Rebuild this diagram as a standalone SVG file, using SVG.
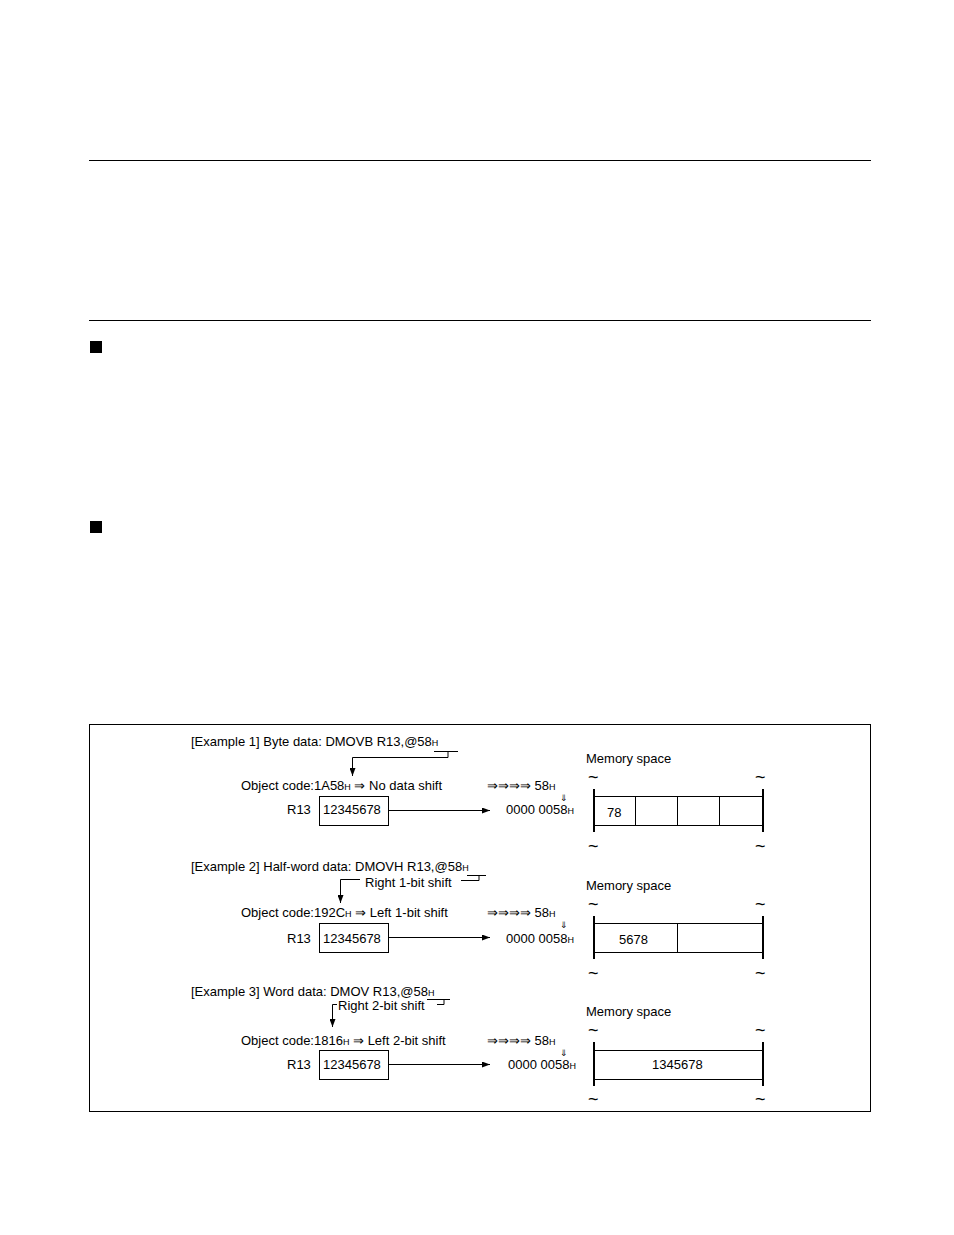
<svg xmlns="http://www.w3.org/2000/svg" width="954" height="1235" viewBox="0 0 954 1235">
<defs>
<style>
text{font-family:"Liberation Sans",Arial,sans-serif;font-size:13px;fill:#000}
.s{font-size:9px}
.t{font-size:9px}
.ln{stroke:#000;stroke-width:1;fill:none}
.mem{stroke:#000;stroke-width:2;fill:none}
.tl{font-size:18px}
</style>
<marker id="ah" markerWidth="8" markerHeight="6" refX="8" refY="3" orient="auto" markerUnits="userSpaceOnUse"><path d="M0,0 L8,3 L0,6 z" fill="#000"/></marker>
</defs>
<rect width="954" height="1235" fill="#fff"/>
<line x1="89" y1="160.5" x2="871" y2="160.5" class="ln"/>
<line x1="89" y1="320.5" x2="871" y2="320.5" class="ln"/>
<rect x="90" y="341" width="12" height="12" fill="#000"/>
<rect x="90" y="521" width="12" height="12" fill="#000"/>
<rect x="89.5" y="724.5" width="781" height="387" class="ln"/>

<g id="ex1">
<text x="191" y="746">[Example 1] Byte data: DMOVB R13,@58<tspan class="s">H</tspan></text>
<text x="241" y="790">Object code:1A58<tspan class="s">H</tspan>  ⇒  No data shift</text>
<text x="487" y="790">⇒⇒⇒⇒  58<tspan class="s">H</tspan></text>
<text x="560" y="801" class="t">⇓</text>
<text x="287" y="814">R13</text>
<rect x="319.5" y="796.5" width="69" height="29" class="ln"/>
<text x="323" y="814">12345678</text>
<text x="506" y="814">0000 0058<tspan class="s">H</tspan></text>
</g>
<g id="mem1">
<text x="586" y="763">Memory space</text>
<text x="588" y="783" class="tl">~</text><text x="755" y="783" class="tl">~</text>
<text x="588" y="852" class="tl">~</text><text x="755" y="852" class="tl">~</text>
<line x1="594" y1="789" x2="594" y2="832" class="mem"/>
<line x1="763" y1="789" x2="763" y2="832" class="mem"/>
<rect x="594.5" y="796.5" width="168" height="29" class="ln"/>
<line x1="635.5" y1="796" x2="635.5" y2="826" class="ln"/>
<line x1="677.5" y1="796" x2="677.5" y2="826" class="ln"/>
<line x1="719.5" y1="796" x2="719.5" y2="826" class="ln"/>
<text x="607" y="817">78</text>
</g>

<g id="ex2">
<text x="191" y="871">[Example 2] Half-word data: DMOVH R13,@58<tspan class="s">H</tspan></text>
<text x="365" y="887">Right 1-bit shift</text>
<text x="241" y="917">Object code:192C<tspan class="s">H</tspan>  ⇒  Left 1-bit shift</text>
<text x="487" y="917">⇒⇒⇒⇒  58<tspan class="s">H</tspan></text>
<text x="560" y="928" class="t">⇓</text>
<text x="287" y="943">R13</text>
<rect x="319.5" y="923.5" width="69" height="29" class="ln"/>
<text x="323" y="943">12345678</text>
<text x="506" y="943">0000 0058<tspan class="s">H</tspan></text>
</g>
<g id="mem2">
<text x="586" y="890">Memory space</text>
<text x="588" y="910" class="tl">~</text><text x="755" y="910" class="tl">~</text>
<text x="588" y="979" class="tl">~</text><text x="755" y="979" class="tl">~</text>
<line x1="594" y1="916" x2="594" y2="959" class="mem"/>
<line x1="763" y1="916" x2="763" y2="959" class="mem"/>
<rect x="594.5" y="923.5" width="168" height="29" class="ln"/>
<line x1="677.5" y1="923" x2="677.5" y2="953" class="ln"/>
<text x="619" y="944">5678</text>
</g>

<g id="ex3">
<text x="191" y="996">[Example 3] Word data: DMOV R13,@58<tspan class="s">H</tspan></text>
<text x="338" y="1010">Right 2-bit shift</text>
<text x="241" y="1045">Object code:1816<tspan class="s">H</tspan>  ⇒  Left 2-bit shift</text>
<text x="487" y="1045">⇒⇒⇒⇒  58<tspan class="s">H</tspan></text>
<text x="560" y="1056" class="t">⇓</text>
<text x="287" y="1069">R13</text>
<rect x="319.5" y="1050.5" width="69" height="29" class="ln"/>
<text x="323" y="1069">12345678</text>
<text x="508" y="1069">0000 0058<tspan class="s">H</tspan></text>
</g>
<g id="mem3">
<text x="586" y="1016">Memory space</text>
<text x="588" y="1036" class="tl">~</text><text x="755" y="1036" class="tl">~</text>
<text x="588" y="1105" class="tl">~</text><text x="755" y="1105" class="tl">~</text>
<line x1="594" y1="1042" x2="594" y2="1086" class="mem"/>
<line x1="763" y1="1042" x2="763" y2="1086" class="mem"/>
<rect x="594.5" y="1050.5" width="168" height="29" class="ln"/>
<text x="652" y="1069">1345678</text>
</g>

<g id="connectors">
<path d="M434,751.5 H458 M448,751.5 V757.5 H352.5 V776" class="ln" marker-end="url(#ah)"/>
<line x1="388" y1="810.5" x2="490" y2="810.5" class="ln" marker-end="url(#ah)"/>
<path d="M467,875.5 H486 M479,875.5 V880.5 H461" class="ln"/>
<path d="M360,879.5 H340.5 V903" class="ln" marker-end="url(#ah)"/>
<line x1="388" y1="937.5" x2="490" y2="937.5" class="ln" marker-end="url(#ah)"/>
<path d="M427,999.5 H450 M444,999.5 V1004.5 H437" class="ln"/>
<path d="M337,1004.5 H332.5 V1027" class="ln" marker-end="url(#ah)"/>
<line x1="388" y1="1064.5" x2="490" y2="1064.5" class="ln" marker-end="url(#ah)"/>
</g>
</svg>
